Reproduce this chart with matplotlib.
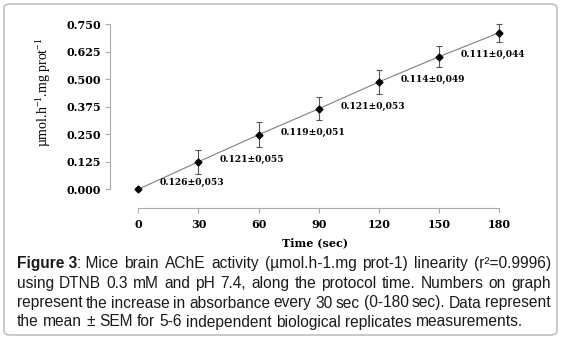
import matplotlib
matplotlib.use("Agg")
import matplotlib.pyplot as plt
from matplotlib.patches import FancyBboxPatch

# Data
time_s = [0, 30, 60, 90, 120, 150, 180]
activity = [0.000, 0.125, 0.248, 0.366, 0.488, 0.603, 0.712]
sem = [0.0, 0.054, 0.057, 0.052, 0.054, 0.049, 0.041]
increase_labels = ["0.126\u00b10,053", "0.121\u00b10,055", "0.119\u00b10,051",
                   "0.121\u00b10,053", "0.114\u00b10,049", "0.111\u00b10,044"]
yticks = [0.000, 0.125, 0.250, 0.375, 0.500, 0.625, 0.750]

caption_lines = [
    ["Figure 3", ": Mice", "brain", "AChE", "activity", "(\u00b5mol.h-1.mg", "prot-1)",
     "linearity", "(r\u00b2=0.9996)"],
    ["using", "DTNB", "0.3", "mM", "and", "pH", "7.4,", "along", "the", "protocol", "time.",
     "Numbers", "on", "graph"],
    ["represent", "the", "increase", "in", "absorbance", "every", "30", "sec", "(0-180",
     "sec).", "Data", "represent"],
    ["the", "mean", "\u00b1", "SEM", "for", "5-6", "independent", "biological", "replicates",
     "measurements."],
]

plt.rcParams['mathtext.fontset'] = 'custom'
plt.rcParams['mathtext.rm'] = 'Liberation Serif'
plt.rcParams['mathtext.default'] = 'regular'

W, H = 564, 339
fig = plt.figure(figsize=(W / 100, H / 100), dpi=100)

# rounded frame around everything
frame = FancyBboxPatch((4 / W, 4 / H), 553 / W, 331 / H, boxstyle="round,pad=0,rounding_size=0.012",
                       transform=fig.transFigure, facecolor='none', edgecolor='#c4c4c4', lw=1.3)
fig.patches.append(frame)

ax = fig.add_axes([110.2 / W, 1 - 208.4 / H, (519.4 - 110.2) / W, (208.4 - 22.1) / H])
ax.set_xlim(-14, 190)
ax.set_ylim(-0.087, 0.76)

ax.plot(time_s, activity, color='#808080', lw=0.8, zorder=2)
ax.errorbar(time_s[1:], activity[1:], yerr=sem[1:], fmt='none', ecolor='#555555',
            elinewidth=0.8, capsize=2, capthick=0.8, zorder=3, clip_on=False)
ax.plot(time_s, activity, 'D', color='black', ms=3.5, zorder=4, clip_on=False)

tick_font = dict(family='DejaVu Serif', weight='bold', size=8)
for i, lab in enumerate(increase_labels):
    dy = 5 if i == 0 else 1.5
    ax.annotate(lab, (time_s[i], activity[i]), xytext=(15.5, dy), textcoords='offset points',
                ha='left', va='center', family='DejaVu Serif', weight='bold', fontsize=6.6)

for s in ['top', 'right']:
    ax.spines[s].set_visible(False)
for s in ['left', 'bottom']:
    ax.spines[s].set_color('#aaaaaa')
    ax.spines[s].set_linewidth(0.8)
ax.spines['left'].set_bounds(0, 0.75)
ax.spines['bottom'].set_bounds(0, 180)

ax.set_xticks(time_s)
ax.set_xticklabels([str(t) for t in time_s], fontdict=tick_font)
ax.set_yticks(yticks)
ax.set_yticklabels([f"{v:.3f}" for v in yticks], fontdict=tick_font)
ax.tick_params(axis='both', colors='#aaaaaa', labelcolor='black', length=3.5, width=0.8)
ax.tick_params(axis='y', pad=3)
ax.tick_params(axis='x', pad=4)

ax.set_xlabel("Time (sec)", family='DejaVu Serif', weight='bold', fontsize=8, labelpad=5)
fig.text(44 / W, 1 - 92 / H, "\u00b5mol.h$^{-1}$.mg prot$^{-1}$", rotation=90,
         ha='center', va='center', family='Liberation Serif', fontsize=10)

# justified caption, one text per word
renderer = fig.canvas.get_renderer()
left, right = 16.7, 551.0
baselines = [268, 288, 307.5, 326.5]
cap_size = 11.2
for li, words in enumerate(caption_lines):
    texts = []
    for w in words:
        t = fig.text(0, 1 - baselines[li] / H, w, ha='left', va='baseline',
                     family='Liberation Sans', fontsize=cap_size,
                     weight='bold' if w == "Figure 3" else 'normal', color='#1a1a1a')
        texts.append(t)
    widths = [t.get_window_extent(renderer).width for t in texts]
    glued = [w.startswith(":") for w in words]
    n_gaps = len(words) - 1 - sum(glued)
    if li == len(caption_lines) - 1:
        gap = 0.278 * cap_size * 100 / 72
    else:
        gap = (right - left - sum(widths)) / n_gaps
    x = left
    for k, t in enumerate(texts):
        if k > 0 and not glued[k]:
            x += gap
        t.set_x(x / W)
        x += widths[k]

fig.savefig("out.png", dpi=100)
